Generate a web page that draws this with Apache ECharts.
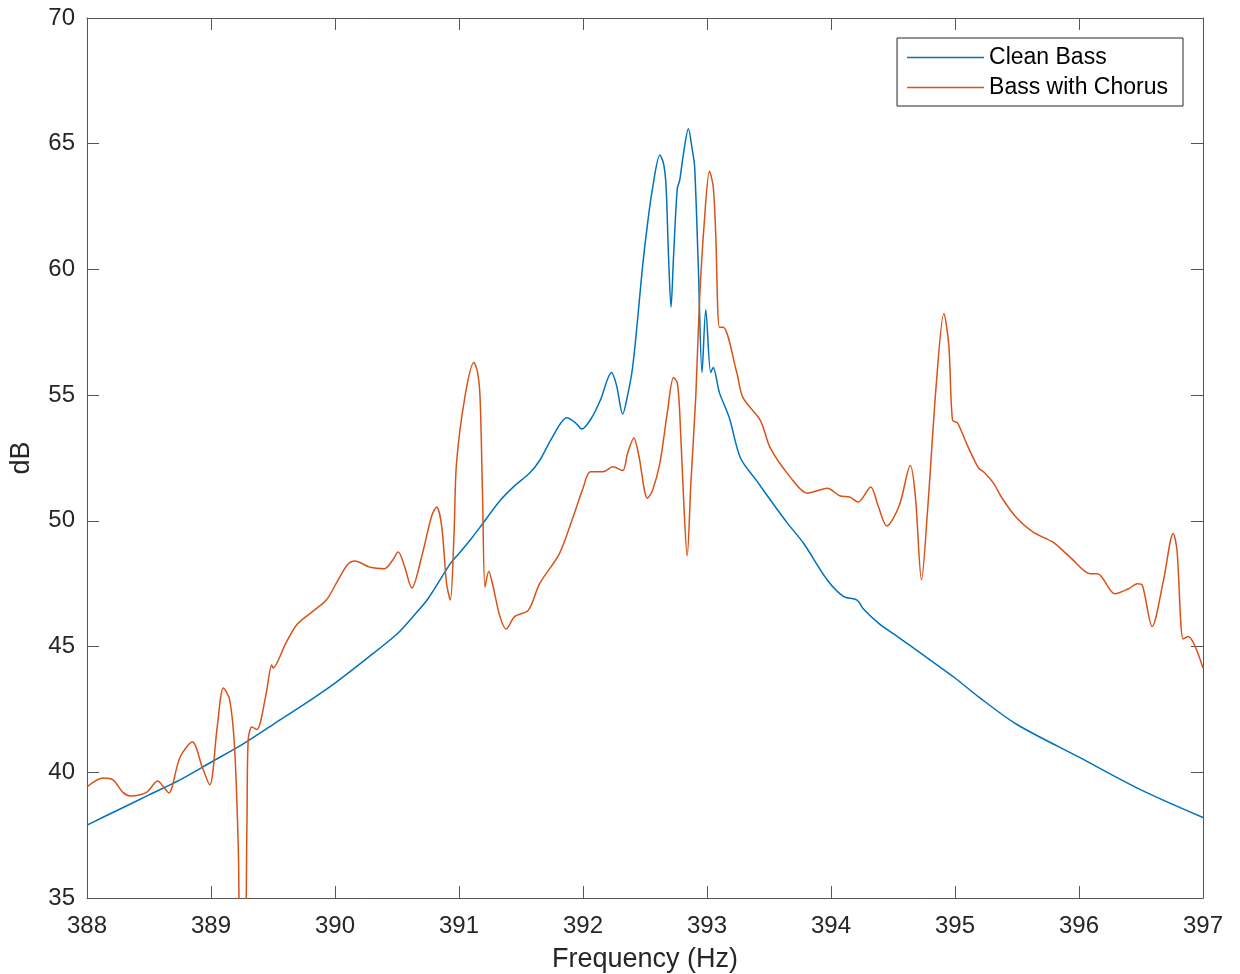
<!DOCTYPE html>
<html style="height: 100%">
<head>
    <meta charset="utf-8">
</head>
<body style="height: 100%; margin: 0; background: #fff">
    <div id="container" style="width: 1240px; height: 974px"></div>
    <script type="text/javascript" src="https://cdn.jsdelivr.net/npm/echarts@6/dist/echarts.min.js"></script>
    <script type="text/javascript">
        // clean bass spectrum (Hz, dB)
        var cleanFreq = [388.00, 388.25, 388.50, 388.75, 389.00, 389.25, 389.50, 389.75, 390.00, 390.25,
            390.50, 390.63, 390.75, 390.93, 391.00, 391.10, 391.17, 391.33, 391.45, 391.57, 391.65, 391.75,
            391.87, 391.94, 391.99, 392.07, 392.14, 392.23, 392.27, 392.32, 392.36, 392.40, 392.44, 392.48,
            392.52, 392.56, 392.62, 392.65, 392.67, 392.69, 392.71, 392.73, 392.76, 392.78, 392.81, 392.85,
            392.88, 392.90, 392.93, 392.96, 392.99, 393.03, 393.05, 393.10, 393.18, 393.27, 393.40, 393.53,
            393.65, 393.78, 393.97, 394.10, 394.21, 394.26, 394.39, 394.55, 394.79, 395.00, 395.19, 395.50,
            396.00, 396.50, 397.00];
        var cleanDb = [37.9, 38.5, 39.1, 39.7, 40.4, 41.1, 41.9, 42.7, 43.55, 44.5,
            45.5, 46.2, 46.9, 48.3, 48.7, 49.3, 49.75, 50.8, 51.4, 51.9, 52.4, 53.3,
            54.1, 53.9, 53.65, 54.1, 54.8, 55.9, 55.4, 54.25, 55.0, 56.1, 58.0, 60.1,
            61.8, 63.2, 64.55, 64.2, 63.3, 60.5, 58.5, 60.5, 63.2, 63.55, 64.6, 65.6,
            64.8, 64.1, 60.1, 55.9, 58.4, 55.9, 56.1, 55.1, 54.1, 52.5, 51.6, 50.7,
            49.9, 49.1, 47.65, 47.0, 46.85, 46.5, 45.9, 45.35, 44.5, 43.75, 43.0, 41.9,
            40.6, 39.3, 38.2];

        // bass with chorus spectrum (Hz, dB)
        var chorusFreq = [388.00, 388.13, 388.21, 388.29, 388.35, 388.48, 388.57, 388.62, 388.66, 388.75,
            388.85, 388.93, 388.99, 389.05, 389.10, 389.15, 389.19, 389.22, 389.24, 389.27, 389.29, 389.30,
            389.33, 389.37, 389.44, 389.49, 389.50, 389.60, 389.69, 389.82, 389.93, 390.02, 390.10, 390.16,
            390.28, 390.40, 390.46, 390.51, 390.56, 390.62, 390.70, 390.78, 390.82, 390.86, 390.90, 390.93,
            390.96, 390.98, 391.05, 391.12, 391.15, 391.17, 391.19, 391.21, 391.24, 391.27, 391.33, 391.38,
            391.45, 391.56, 391.65, 391.81, 391.92, 392.00, 392.06, 392.16, 392.24, 392.32, 392.36, 392.41,
            392.45, 392.52, 392.56, 392.62, 392.68, 392.73, 392.76, 392.78, 392.81, 392.84, 392.87, 392.91,
            392.94, 392.98, 393.02, 393.05, 393.07, 393.10, 393.13, 393.24, 393.29, 393.43, 393.51, 393.67,
            393.81, 393.97, 394.07, 394.15, 394.22, 394.32, 394.38, 394.45, 394.55, 394.64, 394.68, 394.73,
            394.78, 394.85, 394.91, 394.95, 394.98, 395.02, 395.10, 395.19, 395.23, 395.31, 395.38, 395.50,
            395.63, 395.79, 395.93, 396.09, 396.15, 396.29, 396.40, 396.47, 396.51, 396.59, 396.68, 396.76,
            396.79, 396.84, 396.88, 397.00];
        var chorusDb = [39.42, 39.77, 39.7, 39.2, 39.06, 39.2, 39.65, 39.4, 39.18, 40.6,
            41.2, 40.2, 39.5, 41.8, 43.35, 42.9, 41.0, 37.0, 32.0, 32.0, 38.0, 41.3,
            41.8, 41.7, 43.0, 44.27, 44.15, 45.1, 45.86, 46.4, 46.85, 47.6, 48.25, 48.4,
            48.16, 48.1, 48.4, 48.76, 48.2, 47.33, 48.6, 50.2, 50.55, 49.8, 47.5, 46.85,
            49.5, 52.3, 55.0, 56.3, 55.9, 54.9, 51.0, 47.37, 48.0, 47.5, 46.2, 45.7,
            46.2, 46.45, 47.5, 48.7, 50.15, 51.3, 51.95, 51.95, 52.15, 52.0, 52.7, 53.3,
            52.6, 50.9, 51.2, 52.3, 54.3, 55.7, 55.5, 54.3, 51.0, 48.6, 51.5, 55.0,
            58.8, 62.0, 63.9, 63.3, 61.45, 57.7, 57.7, 55.9, 54.9, 54.0, 52.9, 51.75,
            51.1, 51.3, 51.0, 50.95, 50.75, 51.35, 50.6, 49.8, 50.6, 52.2, 51.0, 47.65,
            50.5, 55.5, 58.25, 57.0, 54.0, 53.9, 53.0, 52.1, 51.95, 51.5, 50.9, 50.1,
            49.55, 49.15, 48.55, 47.9, 47.9, 47.1, 47.3, 47.5, 47.45, 45.8, 47.6, 49.5,
            48.85, 45.3, 45.4, 44.15];

        var xTicks = { min: 388, max: 397, interval: 1 };
        var yTicks = { min: 35, max: 70, interval: 5 };

        function pairs(xs, ys) {
            return xs.map(function (x, i) { return [x, ys[i]]; });
        }

        var font = 'Liberation Sans, Arial, Helvetica, sans-serif';
        var axisColor = '#555';
        var textColor = '#262626';

        var dom = document.getElementById("container");
        var myChart = echarts.init(dom, null, { renderer: 'canvas' });

        // box axes: bottom/left carry labels, top/right only ticks
        function frameAxis(pos, ticks) {
            return {
                type: 'value',
                position: pos,
                min: ticks.min,
                max: ticks.max,
                interval: ticks.interval,
                axisLine: { show: true, onZero: false, lineStyle: { color: axisColor, width: 1 } },
                axisTick: { show: true, inside: true, length: 12, lineStyle: { color: axisColor } },
                axisLabel: { show: false },
                splitLine: { show: false }
            };
        }

        var xMain = frameAxis('bottom', xTicks);
        xMain.axisLabel = { show: true, fontSize: 24, color: textColor, fontFamily: font, margin: 16 };
        xMain.name = 'Frequency (Hz)';
        xMain.nameLocation = 'middle';
        xMain.nameGap = 48;
        xMain.nameTextStyle = { fontSize: 27, color: textColor, fontFamily: font };

        var yMain = frameAxis('left', yTicks);
        yMain.axisLabel = { show: true, fontSize: 24, color: textColor, fontFamily: font, margin: 12 };
        yMain.name = 'dB';
        yMain.nameLocation = 'middle';
        yMain.nameGap = 52;
        yMain.nameTextStyle = { fontSize: 27, color: textColor, fontFamily: font };

        var option = {
            animation: false,
            backgroundColor: '#fff',
            textStyle: { fontFamily: font },
            grid: { left: 87, right: 37, top: 18, bottom: 76, containLabel: false, outerBoundsMode: 'none' },
            legend: {
                orient: 'vertical',
                right: 57,
                top: 38,
                data: ['Clean Bass', 'Bass with Chorus'],
                icon: 'rect',
                itemWidth: 77,
                itemHeight: 1.5,
                itemGap: 7,
                padding: [8, 15, 7, 10],
                backgroundColor: '#fff',
                borderColor: textColor,
                borderWidth: 1,
                textStyle: { fontSize: 23, color: '#000', fontFamily: font }
            },
            xAxis: [xMain, frameAxis('top', xTicks)],
            yAxis: [yMain, frameAxis('right', yTicks)],
            series: [{
                name: 'Clean Bass',
                type: 'line',
                xAxisIndex: 0,
                yAxisIndex: 0,
                showSymbol: false,
                symbol: 'none',
                smooth: 0.3,
                clip: true,
                lineStyle: { color: '#0072BD', width: 1.5 },
                itemStyle: { color: '#0072BD' },
                data: pairs(cleanFreq, cleanDb)
            }, {
                name: 'Bass with Chorus',
                type: 'line',
                xAxisIndex: 0,
                yAxisIndex: 0,
                showSymbol: false,
                symbol: 'none',
                smooth: 0.3,
                clip: true,
                lineStyle: { color: '#D95319', width: 1.5 },
                itemStyle: { color: '#D95319' },
                data: pairs(chorusFreq, chorusDb)
            }]
        };

        myChart.setOption(option);
    </script>
</body>
</html>
